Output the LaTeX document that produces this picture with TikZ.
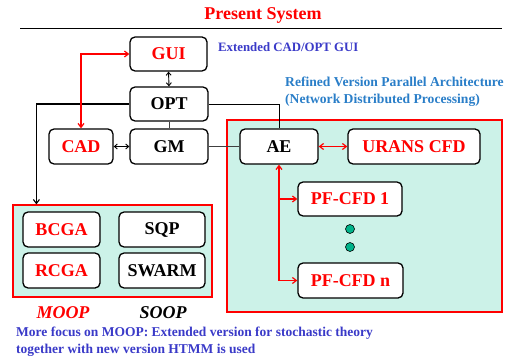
\documentclass[tikz,border=0pt]{standalone}
\usepackage{fontspec}
\setmainfont{Liberation Serif}
\usetikzlibrary{arrows.meta}
\definecolor{tealbg}{HTML}{CCF2E8}
\definecolor{dotteal}{HTML}{00B38A}
\definecolor{labblue}{HTML}{3A3AC8}
\definecolor{archblue}{HTML}{2A7EC8}
\definecolor{pred}{HTML}{FF0000}
\tikzset{
  rtip/.tip={Straight Barb[length=4pt,width=6pt]},
  stip/.tip={Straight Barb[length=3pt,width=5pt]},
  box/.style={draw=black, line width=1.3pt, rounded corners=5pt, fill=white, inner sep=0pt, font=\fontsize{18}{20}\selectfont\bfseries},
  redtxt/.style={text=pred},
  region/.style={draw=pred, line width=1.2pt, fill=tealbg, inner sep=0pt},
  blk/.style={draw=black, line width=0.9pt},
  smallarr/.style={blk, {stip}-{stip}},
  redarr/.style={draw=pred, line width=1.2pt},
  dot/.style={circle, draw=black, line width=0.6pt, fill=dotteal, minimum size=9pt, inner sep=0pt},
  note/.style={font=\fontsize{13}{17}\selectfont\bfseries, align=left, inner sep=0pt, anchor=west},
}
\begin{document}
\begin{tikzpicture}[x=1pt,y=-1pt]
\useasboundingbox (0,0) rectangle (510,358);
% title
\node[font=\fontsize{18}{20}\selectfont\bfseries, text=pred, inner sep=0pt] (title) at (263,15) {Present System};
\coordinate (rl) at (20,28);
\coordinate (rr) at (502,28);
\draw[line width=0.9pt] (rl) -- (rr);
% regions
\node[region, minimum width=275pt, minimum height=192pt] (par) at (364.5,216) {};
\node[region, minimum width=199pt, minimum height=92pt] (moopbox) at (112.5,251) {};
% boxes
\node[box, redtxt, minimum width=77pt, minimum height=34pt] (gui) at (168.5,54) {GUI};
\node[box, minimum width=78pt, minimum height=34pt] (opt) at (169,104) {OPT};
\node[box, redtxt, minimum width=64pt, minimum height=35pt] (cad) at (81,146.5) {CAD};
\node[box, minimum width=78pt, minimum height=35pt] (gm) at (169,146.5) {GM};
\node[box, minimum width=78pt, minimum height=35pt] (ae) at (279,146.5) {AE};
\node[box, redtxt, minimum width=132pt, minimum height=35pt] (urans) at (414,146.5) {URANS CFD};
\node[box, redtxt, minimum width=104pt, minimum height=34pt] (pf1) at (350,199) {PF-CFD 1};
\node[box, redtxt, minimum width=105pt, minimum height=35pt] (pfn) at (350.5,280.5) {PF-CFD n};
\node[box, redtxt, minimum width=77pt, minimum height=35pt] (bcga) at (61.5,229.5) {BCGA};
\node[box, minimum width=86pt, minimum height=35pt] (sqp) at (162,229.5) {SQP};
\node[box, redtxt, minimum width=77pt, minimum height=35pt] (rcga) at (61.5,270.5) {RCGA};
\node[box, minimum width=86pt, minimum height=35pt] (swarm) at (162,270.5) {SWARM};
% dots
\node[dot] (d1) at (350,229) {};
\node[dot] (d2) at (350,247) {};
% labels
\node[note, text=labblue, font=\fontsize{12.8}{17}\selectfont\bfseries] (extl) at (218,47) {Extended CAD/OPT GUI};
\node[note, text=archblue, font=\fontsize{13.6}{17}\selectfont\bfseries] (arch) at (285,91.5) {Refined Version Parallel Architecture\\(Network Distributed Processing)};
\node[font=\fontsize{18}{20}\selectfont\bfseries\itshape, text=pred, inner sep=0pt] (moop) at (63,313) {MOOP};
\node[font=\fontsize{18}{20}\selectfont\bfseries\itshape, inner sep=0pt] (soop) at (163,313) {SOOP};
\node[note, text=labblue, font=\fontsize{13.5}{17}\selectfont\bfseries] (foot) at (16,341.5) {More focus on MOOP: Extended version for stochastic theory\\together with new version HTMM is used};
% connectors
\draw[smallarr] (gui.south) -- (opt.north);
\draw[smallarr] (cad.east) -- (gm.west);
\draw[line width=0.9pt, draw=black!75] (opt.south) -- (gm.north);
\draw[line width=1pt, draw=black!75] (gm.east) -- (ae.west);
\draw[line width=0.8pt] (opt.east) -| (ae.north);
\draw[blk, line width=1.1pt, -{rtip}] (opt.west) -| ([xshift=24pt]moopbox.north west);
\draw[redarr, {rtip}-{rtip}] (cad.north) |- (gui.west);
\draw[redarr, {rtip}-{rtip}] (ae.east) -- (urans.west);
\draw[redarr, {rtip}-{rtip}] (ae.south) |- (pfn.west);
\draw[redarr, -{rtip}] (ae.south |- pf1.west) -- (pf1.west);
\end{tikzpicture}
\end{document}
